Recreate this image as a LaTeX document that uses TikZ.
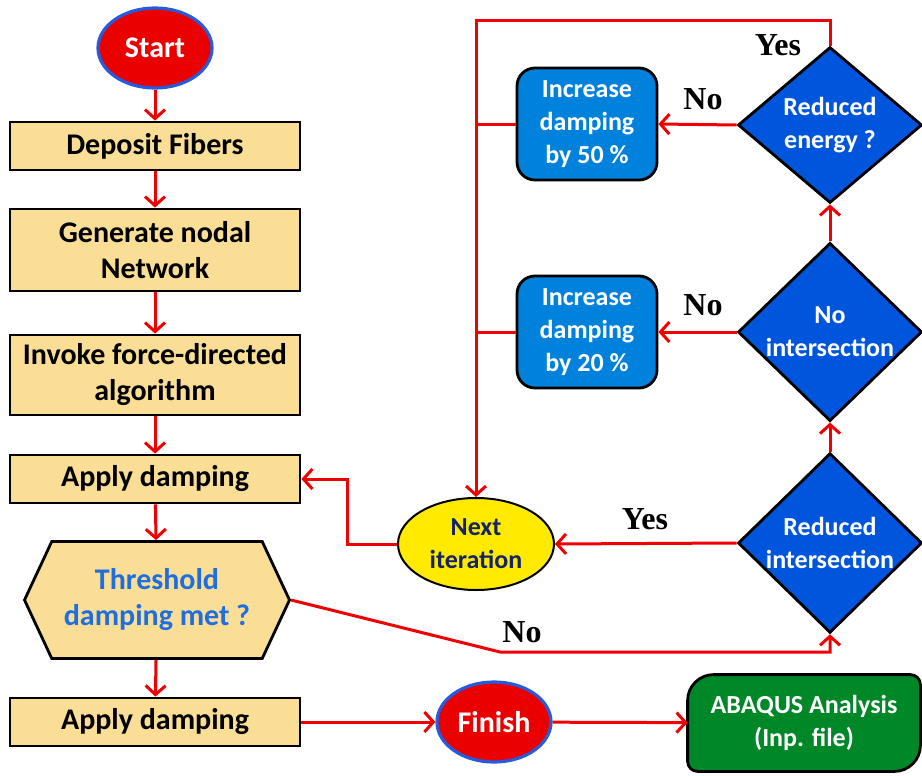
\documentclass[tikz,border=0pt]{standalone}
\usepackage{fontspec}
\setmainfont{Carlito}
\newfontfamily\lblfont{Liberation Serif}
\usetikzlibrary{shapes.geometric, shapes.symbols, arrows.meta, positioning, backgrounds, calc}
\definecolor{boxfill}{RGB}{250,222,150}
\definecolor{termred}{RGB}{235,0,0}
\definecolor{termblue}{RGB}{40,90,220}
\definecolor{decblue}{RGB}{0,85,221}
\definecolor{incblue}{RGB}{0,130,220}
\definecolor{nxtyellow}{RGB}{255,234,0}
\definecolor{navy}{RGB}{20,35,100}
\definecolor{thrblue}{RGB}{30,110,225}
\definecolor{abqgreen}{RGB}{0,135,40}
\definecolor{arrowred}{RGB}{240,0,0}

\begin{document}
\begin{tikzpicture}[x=0.5pt, y=-0.5pt,
		font=\bfseries\fontsize{15}{18}\selectfont,
		>={Straight Barb[length=4.5pt,width=10pt]},
		flow/.style={draw=arrowred,line width=1.5pt},
		elem/.style={draw,rectangle,line width=1.4pt,fill=boxfill,align=center,minimum width=145pt},
		term/.style={draw=termblue,ellipse,line width=1.6pt,fill=termred,text=white,minimum width=57pt,minimum height=40pt,inner sep=1pt},
		small/.style={font=\bfseries\fontsize{13}{16.5}\selectfont},
		dec/.style={draw,diamond,small,line width=1.4pt,fill=decblue,text=white,align=center,minimum width=92pt,minimum height=78pt,inner sep=0pt},
		inc/.style={draw,rectangle,small,rounded corners=9pt,line width=1.4pt,fill=incblue,text=white,align=center,minimum width=70pt,minimum height=56pt},
		lbl/.style={font=\lblfont\bfseries\fontsize{16}{18}\selectfont}]
		\useasboundingbox (0,0) rectangle (922,776);
		% left column
		\node (start) [term] at (155,48) {Start};
		\node (dep) [elem,minimum height=24pt] at (155,146) {Deposit Fibers};
		\node (gen) [elem,minimum height=41pt] at (155,250) {Generate nodal\\Network};
		\node (inv) [elem,minimum height=40pt] at (155,375) {Invoke force-directed\\algorithm};
		\node (app) [elem,minimum height=24pt] at (155,479) {Apply damping};
		\node (thr) [draw,signal,signal to=west and east,signal pointer angle=130,line width=1.4pt,fill=boxfill,text=thrblue,align=center,minimum width=132.5pt,minimum height=58.5pt,inner sep=0pt] at (157,600) {Threshold\\damping met ?};
		\node (app2) [elem,minimum height=24pt] at (155,722) {Apply damping};
		\node (fin) [term] at (494,722) {Finish};
		\node (abq) [small,align=center,minimum width=116pt,minimum height=48pt,text=white] at (804,723) {ABAQUS Analysis\\(Inp. file)};
		% right column
		\node (re) [dec] at (830,125) {Reduced\\energy ?};
		\node (ni) [dec] at (830,332) {No\\intersection};
		\node (ri) [dec] at (830,543) {Reduced\\intersection};
		\node (inc50) [inc] at (587,124) {Increase\\damping\\by 50 \%};
		\node (inc20) [inc] at (587,332) {Increase\\damping\\by 20 \%};
		\node (nxt) [draw,ellipse,small,line width=1pt,fill=nxtyellow,text=navy,align=center,minimum width=78pt,minimum height=46pt,inner sep=1pt] at (476,544) {Next\\iteration};
		\coordinate (top) at (476,20);
		\coordinate (back) at (347,479);
		\coordinate (nobend) at (500,652);
		\begin{scope}[on background layer]
			\filldraw [fill=abqgreen,line width=1.4pt] [rounded corners=13pt] (abq.west) |- (abq.north) [rounded corners=5pt] -| (abq.east) [rounded corners=13pt] |- (abq.south) [rounded corners=5pt] -| (abq.west) -- cycle;
		\end{scope}
		\draw [->,flow] (start) -- (dep);
		\draw [->,flow] (dep) -- (gen);
		\draw [->,flow] (gen) -- (inv);
		\draw [->,flow] (inv) -- (app);
		\draw [->,flow] (app) -- (thr);
		\draw [->,flow] (thr) -- (app2);
		\draw [->,flow] (app2) -- (fin);
		\draw [->,flow] (fin) -- (abq);
		\draw [->,flow] (thr.east) -- (nobend) -| (ri.south);
		\draw [->,flow] (ri.west) -- (nxt.east);
		\draw [->,flow] (ri.north) -- (ni.south);
		\draw [->,flow] (ni.north) -- (re.south);
		\draw [->,flow] (ni.west) -- (inc20.east);
		\draw [->,flow] (re.west) -- (inc50.east);
		\draw [->,flow] (re.north) |- (top) -- (nxt.north);
		\draw [flow] (inc50.west) -- (inc50.west -| top);
		\draw [flow] (inc20.west) -- (inc20.west -| top);
		\draw [->,flow] (nxt.west) -| (back) -- (app.east);
		% branch labels
		\node (yes1) [lbl] at (778,45) {Yes};
		\node (no1) [lbl] at (703,99) {No};
		\node (no2) [lbl] at (703,305) {No};
		\node (yes2) [lbl] at (645,519) {Yes};
		\node (no3) [lbl] at (522,632) {No};
	\end{tikzpicture}
\end{document}
